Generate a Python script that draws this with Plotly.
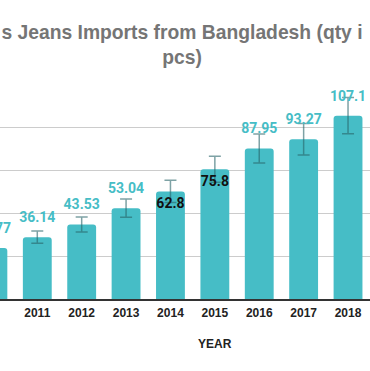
import plotly.graph_objects as go

# ---- data ----
years = ["2010", "2011", "2012", "2013", "2014", "2015", "2016", "2017", "2018"]
imports_mn_pcs = [29.77, 36.14, 43.53, 53.04, 62.8, 75.8, 87.95, 93.27, 107.1]
error_mn_pcs = [3.0, 3.6, 4.4, 5.3, 6.5, 7.6, 8.5, 9.2, 10.6]
label_text = ["29.77", "36.14", "43.53", "53.04", "62.8", "75.8", "87.95", "93.27", "107.1"]
inside_label_years = ["2014", "2015"]

title_text = "s Jeans Imports from Bangladesh (qty i<br>pcs)"
x_title = "YEAR"

TEAL = "#46BDC6"
ERR = "rgba(40,100,105,0.6)"

fig = go.Figure()

fig.add_trace(go.Bar(
    x=years, y=imports_mn_pcs,
    marker=dict(color=TEAL, line=dict(width=0)),
    error_y=dict(type="data", array=error_mn_pcs, visible=True,
                 color=ERR, thickness=1.5, width=6),
    hoverinfo="skip",
))

out_x = [y for y in years if y not in inside_label_years]
out_y = [v for y, v in zip(years, imports_mn_pcs) if y not in inside_label_years]
out_t = [t for y, t in zip(years, label_text) if y not in inside_label_years]
in_x = [y for y in years if y in inside_label_years]
in_y = [v for y, v in zip(years, imports_mn_pcs) if y in inside_label_years]
in_t = [t for y, t in zip(years, label_text) if y in inside_label_years]

fig.add_trace(go.Scatter(
    x=out_x, y=out_y, text=out_t, mode="markers+text",
    marker=dict(size=17, opacity=0),
    textposition="top center",
    textfont=dict(family="Roboto", size=14, color=TEAL, weight="bold"),
    cliponaxis=True, hoverinfo="skip",
))
fig.add_trace(go.Scatter(
    x=in_x, y=in_y, text=in_t, mode="markers+text",
    marker=dict(size=8, opacity=0),
    textposition="bottom center",
    textfont=dict(family="Roboto", size=14, color="#111111", weight="bold"),
    cliponaxis=True, hoverinfo="skip",
))

fig.update_layout(
    width=370, height=371,
    margin=dict(l=0, r=0, t=85, b=72),
    paper_bgcolor="white", plot_bgcolor="white",
    showlegend=False,
    bargap=0.35,
    barcornerradius=3,
    title=dict(text=title_text, x=182 / 370, xanchor="center",
               y=1 - 38.5 / 371, yanchor="middle", yref="container",
               font=dict(family="Liberation Sans, Arial", size=19.3, color="#757575", weight="bold")),
    xaxis=dict(type="category", range=[0.16, 8.495],
               showgrid=False, showline=True, linecolor="#333333", linewidth=1.5,
               ticks="", ticklabelstandoff=2,
               tickfont=dict(family="Liberation Sans, Arial", size=12, color="#222222", weight="bold"),
               fixedrange=True),
    yaxis=dict(range=[0, 125], dtick=25, showgrid=True, gridcolor="#cccccc", gridwidth=1,
               showticklabels=False, zeroline=False, showline=False, fixedrange=True),
    annotations=[dict(text=x_title, xref="paper", yref="paper", x=215 / 370, y=-45.3 / 214,
                      xanchor="center", yanchor="middle", showarrow=False,
                      font=dict(family="Liberation Sans, Arial", size=12, color="#222222", weight="bold"))],
)

fig.write_html("out.html", config={"displayModeBar": False},
               post_script="document.body.style.margin='0';")
